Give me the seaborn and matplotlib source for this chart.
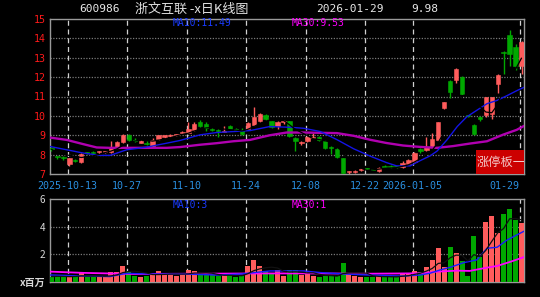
import numpy as np
import pandas as pd
import matplotlib
matplotlib.use("Agg")
import matplotlib.pyplot as plt
import matplotlib.patches as mpatches
import seaborn as sns

# ---------------- data ----------------
opens = [8.32, 7.92, 7.90, 7.50, 7.72, 7.62, 8.12, 8.12, 8.12, 8.12,
         8.15, 8.40, 8.65, 9.02, 8.75, 8.62, 8.62, 8.42, 8.82, 8.92,
         8.95, 9.00, 9.10, 9.14, 9.25, 9.68, 9.60, 9.33, 9.27, 9.17,
         9.50, 9.32, 9.20, 9.30, 9.53, 9.75, 10.05, 9.72, 9.50, 9.68,
         9.72, 8.85, 8.58, 8.70, 8.86, 8.92, 8.72, 8.40, 8.30, 7.83,
         7.12, 7.12, 7.20, 7.30, 7.25, 7.15, 7.42, 7.40, 7.40, 7.35,
         7.50, 7.60, 8.30, 8.25, 8.47, 8.73, 10.40, 11.80, 11.85, 12.00,
         10.03, 9.55, 9.95, 10.05, 10.10, 11.65, 13.32, 14.20, 13.55, 12.60]
closes = [8.28, 7.88, 7.85, 7.83, 7.68, 8.02, 8.08, 8.08, 8.18, 8.17,
          8.40, 8.65, 9.00, 8.75, 8.70, 8.68, 8.57, 8.78, 9.00, 9.00,
          9.00, 9.06, 9.16, 9.30, 9.58, 9.46, 9.40, 9.28, 9.22, 9.23,
          9.32, 9.28, 9.05, 9.65, 9.92, 10.10, 9.85, 9.45, 9.70, 9.75,
          8.95, 8.68, 8.64, 8.90, 8.92, 8.75, 8.35, 8.35, 7.90, 7.05,
          7.16, 7.16, 7.27, 7.27, 7.22, 7.32, 7.38, 7.36, 7.36, 7.57,
          7.70, 8.10, 8.20, 8.37, 8.80, 9.68, 10.70, 11.25, 12.40, 11.15,
          9.98, 9.07, 9.85, 10.95, 10.95, 12.10, 13.25, 13.20, 12.55, 13.80]
highs = [8.40, 7.95, 7.92, 7.85, 7.80, 8.06, 8.15, 8.20, 8.20, 8.20,
         8.70, 8.70, 9.05, 9.05, 8.85, 8.75, 8.70, 8.85, 9.02, 9.02,
         9.05, 9.08, 9.20, 9.68, 9.68, 9.78, 9.68, 9.38, 9.30, 9.50,
         9.55, 9.35, 9.40, 9.70, 10.45, 10.15, 10.10, 9.75, 9.75, 9.80,
         9.75, 8.90, 8.68, 8.95, 9.10, 8.95, 8.75, 8.45, 8.35, 7.85,
         7.18, 7.20, 7.30, 7.32, 7.28, 7.35, 7.45, 7.45, 7.42, 7.65,
         7.80, 8.12, 8.35, 8.90, 9.10, 9.70, 10.72, 11.85, 12.45, 12.05,
         10.05, 9.60, 9.98, 11.00, 11.00, 12.15, 13.35, 14.45, 13.70, 13.85]
lows = [8.20, 7.75, 7.70, 7.42, 7.60, 7.55, 8.05, 8.00, 8.05, 8.10,
        8.10, 8.35, 8.60, 8.70, 8.65, 8.58, 8.52, 8.35, 8.78, 8.85,
        8.92, 8.98, 9.08, 9.10, 9.20, 9.42, 9.20, 9.20, 8.90, 9.15,
        9.30, 9.20, 9.00, 9.25, 9.50, 9.70, 9.80, 9.40, 9.30, 9.60,
        8.90, 8.20, 8.50, 8.65, 8.85, 8.70, 8.30, 8.05, 7.85, 7.02,
        7.00, 7.05, 7.18, 7.25, 7.20, 7.12, 7.35, 7.32, 7.33, 7.30,
        7.45, 7.58, 8.10, 8.20, 8.35, 8.70, 10.35, 10.90, 11.70, 11.10,
        9.95, 9.00, 9.75, 9.95, 9.85, 11.20, 12.15, 12.55, 12.35, 12.15]
volumes = [0.39, 0.43, 0.39, 0.34, 0.43, 0.63, 0.39, 0.34, 0.39, 0.34,
           0.75, 0.75, 1.16, 0.82, 0.43, 0.39, 0.43, 0.63, 0.80, 0.50,
           0.50, 0.43, 0.63, 0.87, 0.80, 0.50, 0.50, 0.50, 0.43, 0.50,
           0.50, 0.39, 0.43, 1.16, 1.60, 1.16, 0.80, 0.63, 0.87, 0.43,
           0.87, 0.87, 0.50, 0.63, 0.43, 0.39, 0.43, 0.43, 0.43, 1.35,
           0.63, 0.43, 0.39, 0.39, 0.39, 0.43, 0.34, 0.34, 0.34, 0.63,
           0.63, 0.82, 0.75, 1.10, 1.60, 2.44, 1.08, 2.51, 2.07, 1.52,
           0.43, 3.35, 1.78, 4.36, 4.77, 3.51, 4.92, 5.28, 4.48, 4.29]

# moving-average curves (position, value)
ma10_x = [-0.24, 2.56, 5.36, 8.16, 9.84, 12.64, 14.88, 16.56, 19.36, 21.6, 24.96,
          27.76, 30.56, 33.37, 36.7, 40.1, 42.4, 45.2, 48.0, 50.8, 53.5, 56.3,
          58.0, 60.3, 61.9, 63.6, 64.8, 66.5, 68.2, 69.8, 71.5, 73.2, 74.9,
          76.6, 78.2, 79.6]
ma10_y = [8.42, 8.25, 8.08, 7.96, 7.96, 8.25, 8.34, 8.42, 8.59, 8.73, 9.02,
          9.14, 9.19, 9.24, 9.45, 9.41, 9.36, 9.19, 8.77, 8.30, 7.93, 7.59,
          7.42, 7.42, 7.68, 7.93, 8.18, 8.77, 9.45, 9.95, 10.29, 10.63, 10.80,
          11.05, 11.30, 11.50]
ma30_x = [-0.24, 2.56, 5.36, 7.6, 9.84, 13.75, 19.36, 21.6, 24.96, 27.76, 30.56,
          33.37, 36.7, 39.5, 42.4, 48.0, 50.8, 53.5, 56.3, 59.1, 61.9, 64.8,
          67.5, 70.3, 73.2, 75.9, 78.2, 79.6]
ma30_y = [8.88, 8.76, 8.54, 8.37, 8.35, 8.35, 8.35, 8.39, 8.51, 8.59, 8.69,
          8.76, 9.00, 9.14, 9.14, 9.11, 8.97, 8.77, 8.60, 8.47, 8.40, 8.35,
          8.44, 8.57, 8.69, 9.03, 9.28, 9.51]
vma10_x = [-0.24, 5.36, 9.84, 12.64, 16.56, 22.2, 27.76, 31.9, 36.7, 42.4, 45.2,
           49.1, 53.5, 59.1, 61.9, 63.6, 65.3, 67.0, 69.3, 71.5, 73.2, 74.9,
           76.6, 78.2, 79.6]
vma10_y = [0.51, 0.43, 0.39, 0.63, 0.58, 0.58, 0.50, 0.58, 0.80, 0.80, 0.68,
           0.58, 0.50, 0.43, 0.50, 0.63, 0.87, 1.06, 1.40, 1.60, 2.44, 2.51,
           3.04, 3.40, 3.71]
vma30_x = [-0.24, 5.36, 13.75, 24.96, 36.7, 45.2, 53.5, 61.9, 64.8, 68.2, 70.3,
           72.7, 74.9, 77.2, 79.6]
vma30_y = [0.75, 0.66, 0.58, 0.60, 0.62, 0.62, 0.60, 0.63, 0.75, 0.82, 0.80,
           1.00, 1.16, 1.47, 1.83]

tick_idx = [3, 13, 23, 33, 43, 53, 61, 79]
tick_labels = ["2025-10-13", "10-27", "11-10", "11-24", "12-08", "12-22",
               "2026-01-05", "01-29"]
price_ticks = [7, 8, 9, 10, 11, 12, 13, 14, 15]
vol_ticks = [2, 4, 6]

# ---------------- styling ----------------
sns.set_style("dark", {"axes.facecolor": "black", "figure.facecolor": "black"})
plt.rcParams["font.family"] = ["DejaVu Sans", "Noto Sans CJK SC"]
CJK = ["Noto Sans CJK SC", "DejaVu Sans"]
MONO = "DejaVu Sans Mono"

RED = "#ff5c5c"
GREEN = "#00a800"
GREY = "#9a9a9a"

W, H = 540, 297
fig = plt.figure(figsize=(W / 100, H / 100), dpi=100, facecolor="black")


def box(l, t, r, b):
    return [l / W, 1 - b / H, (r - l) / W, (b - t) / H]


ax = fig.add_axes(box(49.5, 19, 524, 174))
axv = fig.add_axes(box(49.5, 199, 524, 282))

df = pd.DataFrame({"i": np.arange(len(opens)), "open": opens, "close": closes,
                   "high": highs, "low": lows, "vol": volumes})
df["up"] = df["close"] >= df["open"]
df["color"] = np.where(df["up"], RED, GREEN)

XL = (-0.33, 79.42)
for a in (ax, axv):
    a.set_facecolor("black")
    a.set_xlim(*XL)
    for s in a.spines.values():
        s.set_color(GREY)
        s.set_linewidth(1.0)
    a.set_xticks([])
    a.tick_params(axis="y", length=0, pad=3)
    a.grid(False)

# grid lines
for y in range(8, 15):
    ax.axhline(y, color="#7a7a7a", lw=0.9, ls=(0, (1, 1.2)), zorder=1)
for y in vol_ticks[:-1]:
    axv.axhline(y, color="#7a7a7a", lw=0.9, ls=(0, (1, 1.2)), zorder=1)
for t in tick_idx:
    for a in (ax, axv):
        a.axvline(t - 0.25, color="#d0d0d0", lw=0.9, ls=(0, (4, 3)), zorder=1)

# candles
bw = 0.74
ax.vlines(df["i"], df["low"], df["high"], colors=df["color"], lw=1.0, zorder=3)
bottoms = np.minimum(df["open"], df["close"])
heights = np.maximum((df["close"] - df["open"]).abs(), 0.035)
ax.bar(df["i"], heights, bottom=bottoms, width=bw, color=df["color"],
       edgecolor=df["color"], lw=0.4, zorder=4)

# moving averages (price)
df["ma5"] = df["close"].rolling(5, min_periods=1).mean()
sns.lineplot(x=ma30_x, y=ma30_y, ax=ax, color="#b000b0", lw=1.7, zorder=5)
sns.lineplot(x=ma10_x, y=ma10_y, ax=ax, color="#1414e6", lw=1.0, zorder=5)
sns.lineplot(data=df, x="i", y="ma5", ax=ax, color="black", lw=0.9, zorder=6)

ax.set_ylim(7, 15)
ax.set_yticks(price_ticks)
ax.set_yticklabels([str(v) for v in price_ticks], color="#ff1a1a",
                   fontsize=7.2, family=MONO)
ax.set_xlabel("")
ax.set_ylabel("")

# volume
axv.bar(df["i"], df["vol"], width=0.84, color=df["color"], lw=0, zorder=3)
df["vma5"] = df["vol"].rolling(5, min_periods=1).mean()
sns.lineplot(x=vma30_x, y=vma30_y, ax=axv, color="#ff00ff", lw=1.3, zorder=5)
sns.lineplot(x=vma10_x, y=vma10_y, ax=axv, color="#1a1aff", lw=1.0, zorder=5)
sns.lineplot(data=df, x="i", y="vma5", ax=axv, color="#111111", lw=0.9, zorder=6)
axv.set_ylim(0, 6)
axv.set_yticks([0] + vol_ticks)
axv.set_yticklabels(["x百万"] + [str(v) for v in vol_ticks], color="#d8d8d8",
                    fontsize=7.2)
for lab in axv.get_yticklabels():
    lab.set_family(CJK)
axv.get_yticklabels()[0].set_fontweight("bold")
axv.set_xlabel("")
axv.set_ylabel("")

# date labels
for k, (t, lab) in enumerate(zip(tick_idx, tick_labels)):
    last = k == len(tick_idx) - 1
    ax.text(t - 0.3, -0.075, lab, transform=ax.get_xaxis_transform(),
            ha="right" if last else "center", va="center", color="#2a8fe0",
            fontsize=7.2, family=MONO, clip_on=False)

# header texts
fig.text(100 / W, 1 - 9 / H, "600986", color="#e8e8e8", fontsize=8,
         family=MONO, ha="center", va="center")
fig.text(135 / W, 1 - 9 / H, "浙文互联 -x日K线图", color="#e0e0e0",
         fontsize=9.4, family=CJK, ha="left", va="center")
fig.text(350 / W, 1 - 9 / H, "2026-01-29", color="#e8e8e8", fontsize=8,
         family=MONO, ha="center", va="center")
fig.text(425 / W, 1 - 9 / H, "9.98", color="#e8e8e8", fontsize=8,
         family=MONO, ha="center", va="center")

fig.text(173 / W, 1 - 23.5 / H, "MA10:11.49", color="#1a3cff", fontsize=7,
         family=MONO, ha="left", va="center")
fig.text(292 / W, 1 - 23.5 / H, "MA30:9.53", color="#ff00ff", fontsize=7,
         family=MONO, ha="left", va="center")
fig.text(173 / W, 1 - 204.5 / H, "MA10:3", color="#1a3cff", fontsize=7,
         family=MONO, ha="left", va="center")
fig.text(292 / W, 1 - 204.5 / H, "MA30:1", color="#ff00ff", fontsize=7,
         family=MONO, ha="left", va="center")

# red badge
badge = mpatches.Rectangle(((476 - 49.5) / (524 - 49.5), 0.0),
                           (524 - 476) / (524 - 49.5), 24 / 155,
                           transform=ax.transAxes, facecolor="#cc0000",
                           edgecolor="none", zorder=8)
ax.add_patch(badge)
ax.text((477 - 49.5) / (524 - 49.5), 12 / 155, "涨停板一哥",
        transform=ax.transAxes, color="#f2c8c8", fontsize=8.8, family=CJK,
        ha="left", va="center", zorder=9, clip_on=True)

fig.savefig("out.png", dpi=100, facecolor="black")
